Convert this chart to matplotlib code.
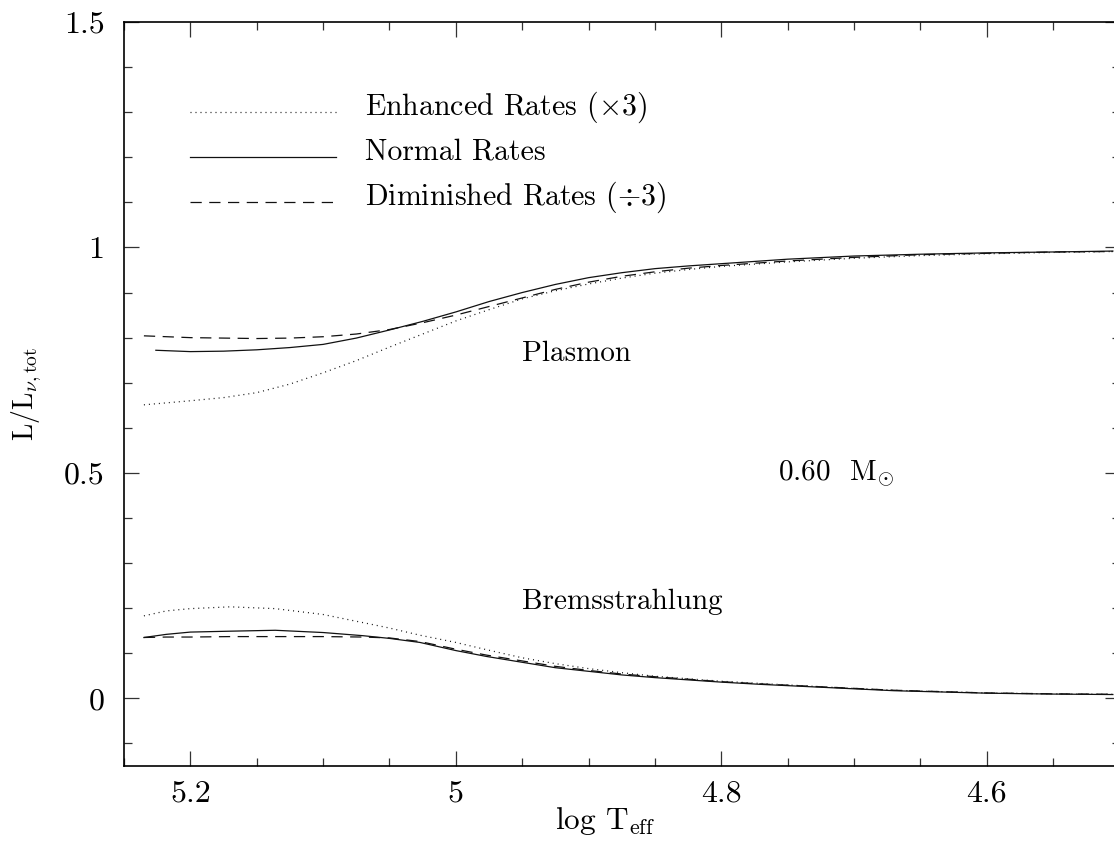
import matplotlib
matplotlib.use("Agg")
import matplotlib.pyplot as plt
from matplotlib.ticker import MultipleLocator

plt.rcParams['font.family'] = 'serif'
plt.rcParams['font.serif'] = ['cmr10', 'DejaVu Serif']
plt.rcParams['mathtext.fontset'] = 'cm'
plt.rcParams['axes.formatter.use_mathtext'] = True
plt.rcParams['axes.unicode_minus'] = False

# ---- data (log Teff, fraction of total neutrino luminosity) ----
# Plasmon process
logT_pl_normal = [5.226, 5.2, 5.175, 5.15, 5.125, 5.1, 5.075, 5.05, 5.025, 5.0, 4.975, 4.95,
                  4.925, 4.9, 4.875, 4.85, 4.825, 4.8, 4.75, 4.7, 4.65, 4.6, 4.55, 4.505]
plasmon_normal = [0.772, 0.769, 0.770, 0.773, 0.778, 0.785, 0.799, 0.817, 0.836, 0.857, 0.880,
                  0.900, 0.918, 0.933, 0.944, 0.953, 0.959, 0.964, 0.974, 0.981, 0.985, 0.988,
                  0.990, 0.992]

logT_pl_other = [5.235, 5.2, 5.175, 5.15, 5.125, 5.1, 5.075, 5.05, 5.025, 5.0, 4.975, 4.95,
                 4.925, 4.9, 4.875, 4.85, 4.825, 4.8, 4.75, 4.7, 4.65, 4.6, 4.55, 4.505]
plasmon_enh = [0.651, 0.660, 0.667, 0.678, 0.697, 0.722, 0.749, 0.779, 0.808, 0.837, 0.862,
               0.886, 0.904, 0.919, 0.932, 0.943, 0.951, 0.958, 0.968, 0.976, 0.982, 0.986,
               0.989, 0.991]
plasmon_dim = [0.804, 0.800, 0.799, 0.798, 0.799, 0.802, 0.808, 0.818, 0.833, 0.850, 0.869,
               0.888, 0.907, 0.923, 0.936, 0.946, 0.954, 0.960, 0.970, 0.978, 0.984, 0.987,
               0.990, 0.991]

# Bremsstrahlung process
logT_br = [5.235, 5.218, 5.2, 5.17, 5.136, 5.1, 5.07, 5.05, 5.027, 5.0, 4.977, 4.95, 4.925,
           4.9, 4.875, 4.85, 4.8, 4.77, 4.72, 4.67, 4.6, 4.55, 4.505]
brems_normal = [0.135, 0.142, 0.147, 0.149, 0.151, 0.146, 0.139, 0.133, 0.124, 0.106, 0.093,
                0.080, 0.068, 0.060, 0.052, 0.046, 0.036, 0.031, 0.024, 0.017, 0.0115, 0.0095,
                0.0085]
brems_dim = [0.135, 0.136, 0.136, 0.137, 0.137, 0.137, 0.136, 0.134, 0.126, 0.109, 0.096,
             0.083, 0.071, 0.062, 0.054, 0.048, 0.037, 0.032, 0.025, 0.018, 0.012, 0.010,
             0.009]
brems_enh = [0.183, 0.194, 0.199, 0.203, 0.199, 0.186, 0.168, 0.156, 0.140, 0.124, 0.108,
             0.090, 0.077, 0.066, 0.057, 0.049, 0.038, 0.033, 0.025, 0.018, 0.012, 0.010,
             0.009]

legend_labels = [r'Enhanced Rates ($\times$3)', 'Normal Rates', r'Diminished Rates ($\div$3)']
legend_y = [1.3, 1.2, 1.1]

fig = plt.figure(figsize=(11.14, 8.46), dpi=100)
ax = fig.add_axes([124 / 1114, 80 / 846, (1119.5 - 124) / 1114, (766 - 22) / 846])

DOT = (0, (0.8, 3.2))
DASH = (0, (9, 6))
styles = [DOT, '-', DASH]
lw = 0.9
col = '#111111'

ax.plot(logT_pl_other, plasmon_enh, color=col, lw=lw, linestyle=DOT)
ax.plot(logT_br, brems_enh, color=col, lw=lw, linestyle=DOT)
ax.plot(logT_pl_normal, plasmon_normal, color=col, lw=lw, linestyle='-')
ax.plot(logT_br, brems_normal, color=col, lw=lw, linestyle='-')
ax.plot(logT_pl_other, plasmon_dim, color=col, lw=lw, linestyle=DASH)
ax.plot(logT_br, brems_dim, color=col, lw=lw, linestyle=DASH)

# legend drawn in data coordinates, like the original
for lab, yy, ls in zip(legend_labels, legend_y, styles):
    ax.plot([5.2, 5.09], [yy, yy], color=col, lw=lw, linestyle=ls)
    ax.text(5.0685, yy - 0.006, lab, fontsize=21.5, va='baseline', ha='left')

ax.text(4.95, 0.764, 'Plasmon', fontsize=21, va='center', ha='left')
ax.text(4.95, 0.214, 'Bremsstrahlung', fontsize=21, va='center', ha='left')
ax.text(4.757, 0.497, r'0.60  M$_{\odot}$', fontsize=21, va='center', ha='left')

ax.set_xlim(5.25, 4.5)
ax.set_ylim(-0.15, 1.5)

ax.xaxis.set_minor_locator(MultipleLocator(0.05))
ax.yaxis.set_minor_locator(MultipleLocator(0.1))
ax.set_xticks([5.2, 5.0, 4.8, 4.6])
ax.set_xticklabels(['5.2', '5', '4.8', '4.6'], fontfamily='cmr10')
ax.set_yticks([0, 0.5, 1.0, 1.5])
ax.set_yticklabels(['0', '0.5', '1', '1.5'], fontfamily='cmr10')

ax.tick_params(which='both', direction='in', top=True, right=True, width=0.9, color='#333333')
ax.tick_params(which='major', length=11, labelsize=23)
ax.tick_params(which='minor', length=5.7)
ax.tick_params(axis='x', which='major', pad=10)
ax.tick_params(axis='y', which='major', pad=14)
for s in ax.spines.values():
    s.set_linewidth(1.2)

ax.set_xlabel(r'log T$_{\rm eff}$', fontsize=22.5, labelpad=1)
ax.xaxis.set_label_coords((605 - 124) / (1119.5 - 124), -0.052)
ax.set_ylabel(r'L/L$_{\nu,\rm tot}$', fontsize=20, labelpad=14)

fig.savefig('out.png', dpi=100)
